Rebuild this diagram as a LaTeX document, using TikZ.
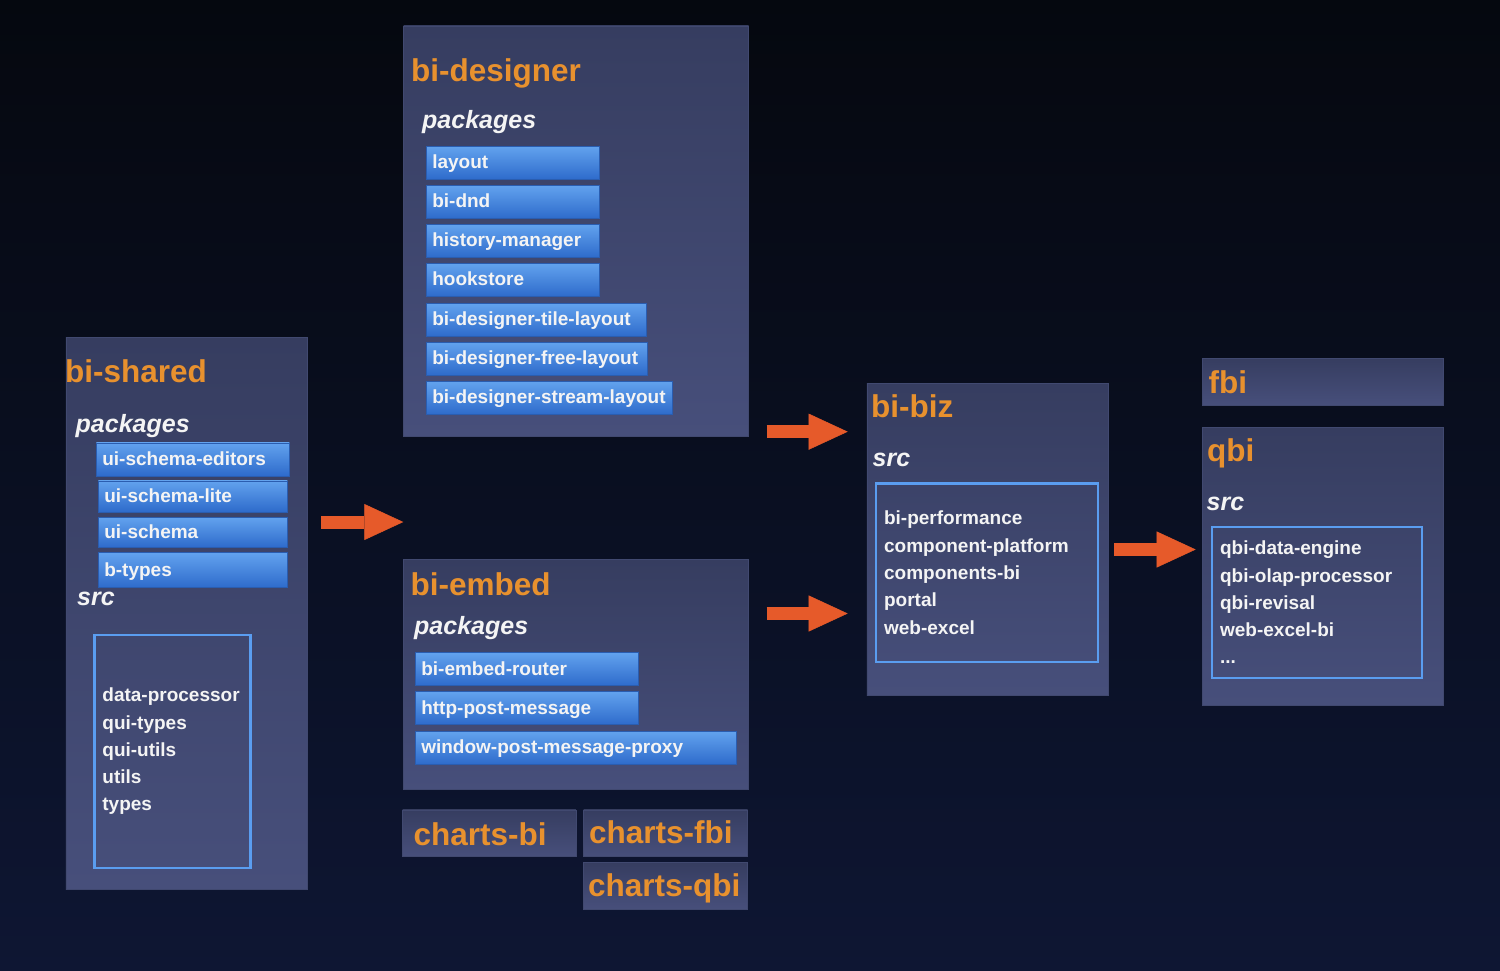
\documentclass[tikz,border=0pt]{standalone}
\usepackage{fontspec}
\setmainfont{Liberation Sans}
\usepackage{tikz}
\usetikzlibrary{arrows.meta, positioning}

\definecolor{bgtop}{HTML}{05080F}
\definecolor{bgbot}{HTML}{0E1633}
\definecolor{paneltop}{HTML}{363D60}
\definecolor{panelbot}{HTML}{474F7B}
\definecolor{paneledge}{HTML}{414970}
\definecolor{boxtop}{HTML}{62A2EE}
\definecolor{boxbot}{HTML}{2E6BCB}
\definecolor{boxedge}{HTML}{2A5DB0}
\definecolor{framecol}{HTML}{5A9DF0}
\definecolor{titlecol}{HTML}{E8912E}
\definecolor{arrowcol}{HTML}{E65A2A}
\definecolor{textcol}{HTML}{F4F4F4}

\begin{document}
\begin{tikzpicture}[x=1pt, y=-1pt,
        panel/.style={rectangle, anchor=north west, inner sep=0pt, top color=paneltop, bottom color=panelbot, draw=paneledge, line width=0.5pt},
        title/.style={anchor=base west, inner sep=0pt, text=titlecol, font=\bfseries\fontsize{31.5pt}{31.5pt}\selectfont},
        sub/.style={anchor=base west, inner sep=0pt, text=textcol, font=\bfseries\itshape\fontsize{25pt}{25pt}\selectfont},
        pkg/.style={rectangle, anchor=north west, inner xsep=6pt, inner ysep=0pt, text width=#1, minimum height=33pt, text height=15pt, text depth=3pt, align=left, top color=boxtop, bottom color=boxbot, draw=boxedge, line width=0.6pt, text=textcol, font=\bfseries\fontsize{19pt}{19pt}\selectfont},
        frame/.style={rectangle, anchor=north west, inner xsep=8pt, inner ysep=0pt, align=left, draw=framecol, line width=2.2pt, text=textcol, font=\bfseries\fontsize{19pt}{27.3pt}\selectfont},
        flow/.style={draw=arrowcol, line width=13pt, -{Triangle[length=39pt, width=36pt, line width=0.5pt]}}
    ]
        % Background
        \fill[top color=bgtop, bottom color=bgbot] (0,0) rectangle (1500,970);

        % bi-shared
        \node[panel, minimum width=241pt, minimum height=552pt] (shared) at (65.7,337.3) {};
        \node[title] (sharedT) at (65,382) {bi-shared};
        \node[sub] (sharedP) at (75.5,432) {packages};
        \node[pkg=181pt] (uiedit) at (96,442.5) {ui-schema-editors};
        \node[pkg=177pt, minimum height=31pt] (uilite) at (98,480.5) {ui-schema-lite};
        \node[pkg=177pt, minimum height=30pt] (uischema) at (98,517) {ui-schema};
        \node[pkg=177pt, minimum height=35pt] (btypes) at (98,552.3) {b-types};
        \node[sub] (sharedS) at (77,605) {src};
        \node[frame, text width=140pt, minimum height=232.7pt] (sharedF) at (93.3,634) {data-processor\\qui-types\\qui-utils\\utils\\types};

        % bi-designer
        \node[panel, minimum width=345pt, minimum height=410.3pt] (designer) at (403.3,25.7) {};
        \node[title] (designerT) at (411,81.7) {bi-designer};
        \node[sub] (designerP) at (422,128.3) {packages};
        \node[pkg=161pt] (layout) at (426,146) {layout};
        \node[pkg=161pt] (dnd) at (426,185) {bi-dnd};
        \node[pkg=161pt] (history) at (426,224) {history-manager};
        \node[pkg=161pt] (hookstore) at (426,263) {hookstore};
        \node[pkg=208pt] (tile) at (426,303) {bi-designer-tile-layout};
        \node[pkg=209pt] (free) at (426,341.7) {bi-designer-free-layout};
        \node[pkg=234pt] (stream) at (426,381) {bi-designer-stream-layout};

        % bi-embed
        \node[panel, minimum width=345pt, minimum height=230.3pt] (embed) at (403.3,559) {};
        \node[title] (embedT) at (410.5,595.7) {bi-embed};
        \node[sub] (embedP) at (414,634.5) {packages};
        \node[pkg=211pt] (router) at (415,652.3) {bi-embed-router};
        \node[pkg=211pt] (httppost) at (415,691.3) {http-post-message};
        \node[pkg=309pt] (winproxy) at (415,731) {window-post-message-proxy};

        % charts
        \node[panel, minimum width=173.4pt, minimum height=46.3pt] (chartsbi) at (402.3,809.7) {};
        \node[title] (chartsbiT) at (413.5,845) {charts-bi};
        \node[panel, minimum width=164pt, minimum height=46.3pt] (chartsfbi) at (583.3,809.7) {};
        \node[title] (chartsfbiT) at (589,843.3) {charts-fbi};
        \node[panel, minimum width=164pt, minimum height=46.4pt] (chartsqbi) at (583.3,862.3) {};
        \node[title] (chartsqbiT) at (587.8,896.7) {charts-qbi};

        % bi-biz
        \node[panel, minimum width=241.6pt, minimum height=312pt] (biz) at (866.7,383.3) {};
        \node[title] (bizT) at (871,417.7) {bi-biz};
        \node[sub] (bizS) at (872.5,466) {src};
        \node[frame, text width=206pt, minimum height=178.7pt] (bizF) at (875,482.3) {bi-performance\\component-platform\\components-bi\\portal\\web-excel};

        % fbi / qbi
        \node[panel, minimum width=241.3pt, minimum height=46.7pt] (fbi) at (1202,358) {};
        \node[title] (fbiT) at (1208.5,393.3) {fbi};
        \node[panel, minimum width=241.3pt, minimum height=277.4pt] (qbi) at (1202,427.3) {};
        \node[title] (qbiT) at (1207,461.7) {qbi};
        \node[sub] (qbiS) at (1206.5,510) {src};
        \node[frame, text width=194pt, minimum height=150.7pt] (qbiF) at (1211,526) {qbi-data-engine\\qbi-olap-processor\\qbi-revisal\\web-excel-bi\\...};

        % Arrows
        \coordinate (a1s) at (321,522);
        \coordinate (a1e) at (403.3,522);
        \coordinate (a2s) at (766.7,431.7);
        \coordinate (a2e) at (847.7,431.7);
        \coordinate (a3s) at (766.7,613.5);
        \coordinate (a3e) at (847.7,613.5);
        \coordinate (a4s) at (1114.3,549.5);
        \coordinate (a4e) at (1195.7,549.5);
        \draw[flow] (a1s) -- (a1e);
        \draw[flow] (a2s) -- (a2e);
        \draw[flow] (a3s) -- (a3e);
        \draw[flow] (a4s) -- (a4e);
    \end{tikzpicture}
\end{document}
